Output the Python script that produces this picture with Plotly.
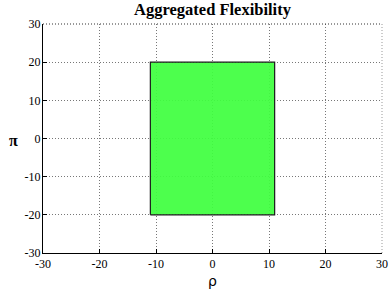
import plotly.graph_objects as go

# Data
rho_bounds = [-11, 11]
pi_bounds = [-20, 20]
tick_vals = [-30, -20, -10, 0, 10, 20, 30]
tick_text = ["-30", "-20", "-10", "0", "10", "20", "30"]

xs = [rho_bounds[0], rho_bounds[1], rho_bounds[1], rho_bounds[0], rho_bounds[0]]
ys = [pi_bounds[0], pi_bounds[0], pi_bounds[1], pi_bounds[1], pi_bounds[0]]

fig = go.Figure()
fig.add_trace(go.Scatter(
    x=xs, y=ys, mode="lines", fill="toself",
    fillcolor="rgba(64,255,64,0.93)",
    line=dict(color="#1a1a1a", width=1.2),
    hoverinfo="skip", showlegend=False,
))

font = "Liberation Serif, Times New Roman, serif"
axis_common = dict(
    range=[-30, 30], tickvals=tick_vals, ticktext=tick_text,
    showgrid=True, gridcolor="#777777", griddash="1px,2px", gridwidth=1,
    showline=True, linecolor="black", linewidth=1,
    ticks="inside", ticklen=4, tickcolor="black",
    zeroline=False, tickfont=dict(family=font, size=12, color="black"),
    fixedrange=True, automargin=False,
)
W, H = 389, 291
ml, mr, mt, mb = 43, 7, 24, 38
plot_w = W - ml - mr
plot_h = H - mt - mb

fig.update_layout(
    width=W, height=H,
    margin=dict(l=ml, r=mr, t=mt, b=mb),
    paper_bgcolor="white", plot_bgcolor="white",
    title=dict(text="<b>Aggregated Flexibility</b>", x=0.5, xref="paper", xanchor="center",
               y=0.968, yanchor="middle", yref="container",
               font=dict(family=font, size=16.5, color="black")),
    xaxis=dict(**axis_common, ticklabelstandoff=0),
    yaxis=dict(**axis_common, ticklabelstandoff=-1),
    annotations=[
        dict(text="ρ", xref="paper", yref="paper", x=0.5, y=(253 - 281) / plot_h,
             xanchor="center", yanchor="middle", showarrow=False,
             font=dict(family="DejaVu Sans", size=14, color="black")),
        dict(text="<b>π</b>", xref="paper", yref="paper", x=(13 - ml) / plot_w,
             y=(253 - 140) / plot_h, xanchor="center", yanchor="middle", showarrow=False,
             font=dict(family=font, size=16, color="black")),
    ],
    shapes=[
        dict(type="line", xref="paper", yref="paper", x0=0, x1=1, y0=1, y1=1,
             line=dict(color="#333333", width=1, dash="1px,2px"), layer="above"),
        dict(type="line", xref="paper", yref="paper", x0=1, x1=1, y0=0, y1=1,
             line=dict(color="#999999", width=1, dash="1px,2px"), layer="above"),
    ],
)
fig.write_html("out.html", config={"displayModeBar": False},
               post_script="document.body.style.margin='0';document.body.style.overflow='hidden';")
